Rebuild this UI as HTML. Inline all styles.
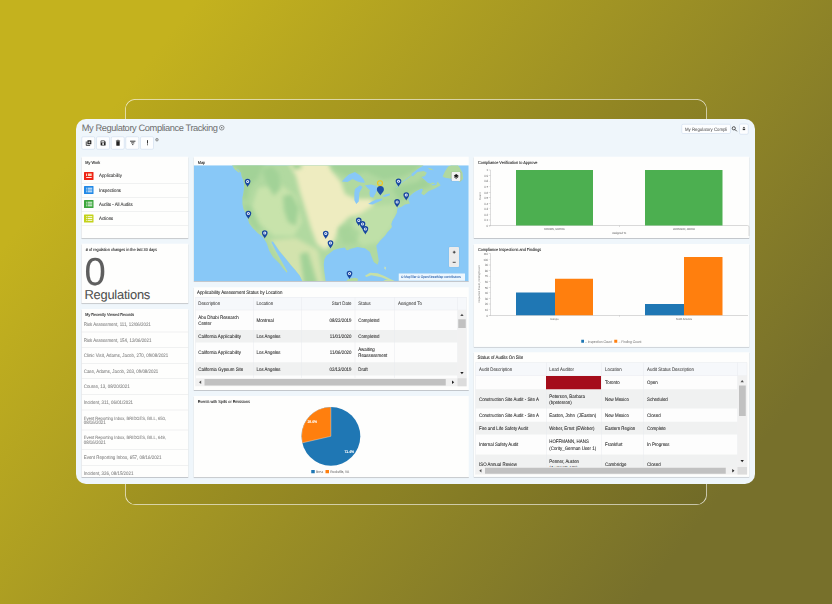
<!DOCTYPE html><html><head><meta charset="utf-8"><title>My Regulatory Compliance Tracking</title><style>
html,body{margin:0;padding:0}
body{width:832px;height:604px;overflow:hidden;position:relative;font-family:"Liberation Sans",sans-serif;text-rendering:geometricPrecision;
background:#8f852a;}
#bg{position:absolute;left:0;top:0;width:832px;height:604px;background:linear-gradient(128deg,#c4b21e 15%,#77702b 85%)}
#w{position:absolute;left:0;top:0;width:3328px;height:2416px;transform:scale(.25);transform-origin:0 0}

.a{position:absolute;box-sizing:border-box}
.t{white-space:nowrap;-webkit-text-stroke:0.24px currentColor}
.p{background:#fefefd;box-shadow:0 3.2px 0 #b8bcc1}
.hl{background:#e3e4e5;height:2px}
svg{position:absolute;overflow:visible}
</style></head><body><div id="bg"></div><div id="w">
<div class="a " style="left:500.4px;top:396.4px;width:2327.2px;height:1623.6px;border:3.2px solid rgba(255,255,255,.8);border-radius:42px;background:rgba(0,0,0,.05)"></div>
<div class="a " style="left:304px;top:476px;width:2716px;height:1460px;background:#eff6fb;border-radius:40px"></div>
<div class="a t" style="top:489.6px;font-size:37.2px;line-height:40px;color:#6e6e6e;letter-spacing:-1.64px;left:326.8px;-webkit-text-stroke:0;">My Regulatory Compliance Tracking</div>
<svg style="left:875.2px;top:499.2px" width="24" height="24" viewBox="0 0 6 6"><circle cx="3" cy="3" r="2.3" fill="none" stroke="#555" stroke-width="0.6"/><circle cx="3" cy="3" r="0.7" fill="#555"/></svg>
<div class="a " style="left:326.4px;top:546.4px;width:54px;height:51.2px;background:#fdfeff;border:2.4px solid #c6d6ea;border-radius:6.4px"></div>
<div class="a " style="left:384.8px;top:546.4px;width:54px;height:51.2px;background:#fdfeff;border:2.4px solid #c6d6ea;border-radius:6.4px"></div>
<div class="a " style="left:444px;top:546.4px;width:54px;height:51.2px;background:#fdfeff;border:2.4px solid #c6d6ea;border-radius:6.4px"></div>
<div class="a " style="left:502px;top:546.4px;width:54px;height:51.2px;background:#fdfeff;border:2.4px solid #c6d6ea;border-radius:6.4px"></div>
<div class="a " style="left:560.8px;top:546.4px;width:54px;height:51.2px;background:#fdfeff;border:2.4px solid #c6d6ea;border-radius:6.4px"></div>
<svg style="left:343.2px;top:560px" width="24" height="24" viewBox="0 0 6 6"><rect x="1.6" y="0.3" width="4" height="4" rx="0.5" fill="#222"/><path d="M0.5 1.5V5.4H4.4" fill="none" stroke="#222" stroke-width="0.8"/><path d="M3.6 1.3V3.3M2.6 2.3H4.6" stroke="#fff" stroke-width="0.6"/></svg>
<svg style="left:399.6px;top:559.6px" width="24.8" height="24.8" viewBox="0 0 6 6"><path d="M0.6 1.2a.6.6 0 0 1 .6-.6H4.2L5.4 1.8V4.8a.6.6 0 0 1-.6.6H1.2a.6.6 0 0 1-.6-.6Z" fill="#222"/><rect x="1.3" y="1.2" width="2.9" height="1.25" fill="#fff"/><circle cx="3" cy="3.95" r="0.95" fill="#fff"/></svg>
<svg style="left:462.4px;top:559.2px" width="20" height="25.6" viewBox="0 0 5 6.4"><path d="M0.8 1.6H4.2V5.6a.5.5 0 0 1-.5.5H1.3a.5.5 0 0 1-.5-.5Z" fill="#222"/><path d="M0.4 1.1H4.6M1.8 0.5H3.2" stroke="#222" stroke-width="0.7"/></svg>
<svg style="left:518.8px;top:561.6px" width="24" height="20" viewBox="0 0 6 5"><path d="M0.3 0.7H5.7M1.4 2.4H4.6M2.4 4.1H3.6" stroke="#222" stroke-width="0.9"/></svg>
<svg style="left:586.8px;top:558.8px" width="6.4" height="24" viewBox="0 0 1.6 6"><rect x="0.35" y="0.4" width="0.9" height="3.4" fill="#222"/><rect x="0.35" y="4.6" width="0.9" height="0.9" fill="#222"/></svg>
<svg style="left:621.2px;top:551.6px" width="13.6" height="13.6" viewBox="0 0 3.4 3.4"><circle cx="1.7" cy="1.7" r="1.3" fill="none" stroke="#666" stroke-width="0.65"/><circle cx="1.7" cy="1.7" r="0.55" fill="#666"/></svg>
<div class="a " style="left:2726.4px;top:496px;width:196.8px;height:39.2px;background:#fdfeff;border:2.4px solid #c6d6ea;border-radius:6.4px"></div>
<div class="a t" style="top:496.4px;font-size:19.35px;line-height:40px;color:#444;left:2740.4px;transform:scaleX(0.8889);transform-origin:0 50%;-webkit-text-stroke:0;">My Regulatory Compli</div>
<svg style="left:2926.4px;top:504px" width="24" height="24" viewBox="0 0 6 6"><circle cx="2.3" cy="2.3" r="1.6" fill="none" stroke="#333" stroke-width="0.8"/><path d="M3.5 3.5L5.3 5.3" stroke="#333" stroke-width="0.9"/></svg>
<div class="a " style="left:2957.2px;top:494.8px;width:37.2px;height:43.2px;background:#fdfeff;border:2.4px solid #c6d6ea;border-radius:6.4px"></div>
<svg style="left:2969.2px;top:506.4px" width="13.6" height="16" viewBox="0 0 3.4 4"><path d="M1.7 0.2L3.1 1.8H0.3Z" fill="#333"/><rect x="0.5" y="2.3" width="2.4" height="1.3" fill="#333"/></svg>
<div class="a p" style="left:326px;top:627px;width:427px;height:326px;"></div>
<div class="a t" style="top:630px;font-size:17.19px;line-height:40px;color:#262626;left:341.2px;transform:scaleX(0.8889);transform-origin:0 50%;-webkit-text-stroke:0.36px currentColor;">My Work</div>
<div class="a " style="left:336px;top:687.6px;width:37.6px;height:32px;background:#ee2416;border-radius:2.4px"></div>
<svg style="left:336px;top:687.6px" width="37.6" height="32" viewBox="0 0 9.4 8.0"><rect x="2.2" y="1.4" width="0.8" height="2.6" rx="0.3" fill="#fff"/><rect x="3.9" y="1.5" width="3.8" height="2.5" fill="#fbd9b8"/><rect x="2.2" y="5.0" width="5.5" height="0.9" fill="#fff"/></svg>
<div class="a t" style="top:683.2px;font-size:19.58px;line-height:40px;color:#2a2a2a;left:396.4px;transform:scaleX(0.8889);transform-origin:0 50%;">Applicability</div>
<div class="a " style="left:336px;top:744px;width:37.6px;height:32px;background:#2188e6;border-radius:2.4px"></div>
<svg style="left:344.8px;top:751px" width="24" height="18" viewBox="0 0 6.0 4.5"><g fill="#fff"><rect x="0" y="0" width="0.85" height="0.9"/><rect x="1.4" y="0" width="4.6" height="0.9"/><rect x="0" y="1.8" width="0.85" height="0.9"/><rect x="1.4" y="1.8" width="4.6" height="0.9"/><rect x="0" y="3.6" width="0.85" height="0.9"/><rect x="1.4" y="3.6" width="4.6" height="0.9"/></g></svg>
<div class="a t" style="top:741.8px;font-size:19.58px;line-height:40px;color:#2a2a2a;left:396.4px;transform:scaleX(0.8889);transform-origin:0 50%;">Inspections</div>
<div class="a " style="left:336px;top:800.2px;width:37.6px;height:32px;background:#3ba63c;border-radius:2.4px"></div>
<svg style="left:344.8px;top:807.2px" width="24" height="18" viewBox="0 0 6.0 4.5"><g fill="#fff"><rect x="0" y="0" width="0.85" height="0.9"/><rect x="1.4" y="0" width="4.6" height="0.9"/><rect x="0" y="1.8" width="0.85" height="0.9"/><rect x="1.4" y="1.8" width="4.6" height="0.9"/><rect x="0" y="3.6" width="0.85" height="0.9"/><rect x="1.4" y="3.6" width="4.6" height="0.9"/></g></svg>
<div class="a t" style="top:797.4px;font-size:19.58px;line-height:40px;color:#2a2a2a;left:396.4px;transform:scaleX(0.8889);transform-origin:0 50%;">Audits - All Audits</div>
<div class="a " style="left:336px;top:857.6px;width:37.6px;height:32px;background:#c3d21a;border-radius:2.4px"></div>
<svg style="left:344.8px;top:864.6px" width="24" height="18" viewBox="0 0 6.0 4.5"><g fill="#fff"><rect x="0" y="0" width="0.85" height="0.9"/><rect x="1.4" y="0" width="4.6" height="0.9"/><rect x="0" y="1.8" width="0.85" height="0.9"/><rect x="1.4" y="1.8" width="4.6" height="0.9"/><rect x="0" y="3.6" width="0.85" height="0.9"/><rect x="1.4" y="3.6" width="4.6" height="0.9"/></g></svg>
<div class="a t" style="top:855.4px;font-size:19.58px;line-height:40px;color:#2a2a2a;left:396.4px;transform:scaleX(0.8889);transform-origin:0 50%;">Actions</div>
<div class="a hl" style="left:326px;top:731.8px;width:427px;height:2px;"></div>
<div class="a hl" style="left:326px;top:788.6px;width:427px;height:2px;"></div>
<div class="a hl" style="left:326px;top:844.6px;width:427px;height:2px;"></div>
<div class="a hl" style="left:326px;top:900.2px;width:427px;height:2px;"></div>
<div class="a p" style="left:326px;top:975px;width:427px;height:238px;"></div>
<div class="a t" style="top:978px;font-size:17.1px;line-height:40px;color:#262626;left:343px;transform:scaleX(0.8889);transform-origin:0 50%;-webkit-text-stroke:0.36px currentColor;"># of regulation changes in the last 30 days</div>
<div class="a t" style="left:338.4px;top:988.8px;font-size:156px;line-height:192px;color:#5e5e5e;transform:scaleX(.98);transform-origin:0 0">0</div>
<div class="a t" style="top:1158.4px;font-size:51.6px;line-height:40px;color:#4e4e4e;letter-spacing:-0.88px;left:337.6px;line-height:64px;margin-top:-12px;">Regulations</div>
<div class="a p" style="left:326px;top:1236px;width:427px;height:672px;overflow:hidden"></div>
<div class="a t" style="top:1239.2px;font-size:16.92px;line-height:40px;color:#262626;left:341.2px;transform:scaleX(0.8889);transform-origin:0 50%;-webkit-text-stroke:0.36px currentColor;">My Recently Viewed Records</div>
<div class="a t" style="top:1278px;font-size:19.8px;line-height:40px;color:#808080;left:335.2px;transform:scaleX(0.8889);transform-origin:0 50%;">Risk Assessment, 111, 12/06/2021</div>
<div class="a t" style="top:1340px;font-size:19.8px;line-height:40px;color:#808080;left:335.2px;transform:scaleX(0.8889);transform-origin:0 50%;">Risk Assessment, 154, 12/06/2021</div>
<div class="a t" style="top:1402px;font-size:19.8px;line-height:40px;color:#808080;left:335.2px;transform:scaleX(0.8889);transform-origin:0 50%;">Clinic Visit, Adams, Jacob, 270, 09/08/2021</div>
<div class="a t" style="top:1465.2px;font-size:19.8px;line-height:40px;color:#808080;left:335.2px;transform:scaleX(0.8889);transform-origin:0 50%;">Case, Adams, Jacob, 203, 09/08/2021</div>
<div class="a t" style="top:1527.2px;font-size:19.8px;line-height:40px;color:#808080;left:335.2px;transform:scaleX(0.8889);transform-origin:0 50%;">Course, 13, 08/20/2021</div>
<div class="a t" style="top:1588.8px;font-size:19.8px;line-height:40px;color:#808080;left:335.2px;transform:scaleX(0.8889);transform-origin:0 50%;">Incident, 311, 06/01/2021</div>
<div class="a t" style="top:1651.6px;font-size:18.45px;line-height:40px;color:#808080;left:335.2px;transform:scaleX(0.8889);transform-origin:0 50%;">Event Reporting Inbox, BRIDGES, BILL, 650,</div>
<div class="a t" style="top:1668px;font-size:19.8px;line-height:40px;color:#808080;left:335.2px;transform:scaleX(0.8889);transform-origin:0 50%;">08/16/2021</div>
<div class="a t" style="top:1731.2px;font-size:18.45px;line-height:40px;color:#808080;left:335.2px;transform:scaleX(0.8889);transform-origin:0 50%;">Event Reporting Inbox, BRIDGES, BILL, 649,</div>
<div class="a t" style="top:1748.4px;font-size:19.8px;line-height:40px;color:#808080;left:335.2px;transform:scaleX(0.8889);transform-origin:0 50%;">08/16/2021</div>
<div class="a t" style="top:1810.8px;font-size:19.8px;line-height:40px;color:#808080;left:335.2px;transform:scaleX(0.8889);transform-origin:0 50%;">Event Reporting Inbox, 657, 08/16/2021</div>
<div class="a t" style="top:1872.8px;font-size:19.8px;line-height:40px;color:#808080;left:335.2px;transform:scaleX(0.8889);transform-origin:0 50%;">Incident, 326, 08/15/2021</div>
<div class="a hl" style="left:326px;top:1327px;width:427px;height:2px;"></div>
<div class="a hl" style="left:326px;top:1389px;width:427px;height:2px;"></div>
<div class="a hl" style="left:326px;top:1451.8px;width:427px;height:2px;"></div>
<div class="a hl" style="left:326px;top:1514px;width:427px;height:2px;"></div>
<div class="a hl" style="left:326px;top:1576px;width:427px;height:2px;"></div>
<div class="a hl" style="left:326px;top:1639px;width:427px;height:2px;"></div>
<div class="a hl" style="left:326px;top:1719px;width:427px;height:2px;"></div>
<div class="a hl" style="left:326px;top:1797px;width:427px;height:2px;"></div>
<div class="a hl" style="left:326px;top:1861px;width:427px;height:2px;"></div>
<div class="a p" style="left:775px;top:627px;width:1100px;height:497px;"></div>
<div class="a t" style="top:627.6px;font-size:17.19px;line-height:40px;color:#262626;left:791.2px;transform:scaleX(0.8889);transform-origin:0 50%;-webkit-text-stroke:0.36px currentColor;">Map</div>
<svg style="left:775px;top:661px" width="1100" height="463" viewBox="0 0 275.0 115.75">
<defs><clipPath id="mc"><rect x="0" y="0" width="275" height="115.75"/></clipPath><filter id="bl" x="-20%" y="-20%" width="140%" height="140%"><feGaussianBlur stdDeviation="2.0"/></filter><filter id="bl2" x="-20%" y="-20%" width="140%" height="140%"><feGaussianBlur stdDeviation="1.9"/></filter><clipPath id="lc"><polygon points="38.0,0.0 41.8,3.2 44.8,4.2 47.3,7.5 48.0,11.2 49.8,15.0 50.5,21.2 49.8,27.5 48.7,32.5 48.7,38.8 49.8,43.8 52.3,48.8 54.2,53.8 55.5,58.2 59.2,63.0 64.2,68.0 69.2,71.8 73.0,78.0 75.5,85.5 79.2,91.8 85.5,98.0 89.2,103.0 93.0,107.4 93.6,106.2 91.8,103.0 86.8,94.2 81.8,85.5 78.0,78.0 77.6,76.2 79.2,76.3 80.5,78.0 85.5,85.5 91.8,93.0 96.8,99.2 101.2,104.2 106.2,110.5 108.8,115.8 131.9,115.8 130.6,106.8 130.0,99.2 130.6,94.2 132.5,90.5 137.5,86.8 140.0,84.8 146.2,83.0 151.2,82.3 152.5,84.8 154.2,85.1 156.2,83.7 163.8,81.8 171.2,83.0 176.2,86.8 177.5,90.5 180.0,96.8 183.8,99.4 185.0,95.5 183.8,88.0 182.5,80.5 186.2,75.5 191.2,70.5 193.8,66.8 196.2,64.2 198.1,61.8 197.4,58.8 198.8,55.0 201.2,51.2 203.1,47.5 203.8,42.5 207.5,41.8 211.2,39.3 216.2,38.2 214.4,34.3 215.6,31.2 218.8,28.2 222.5,25.7 227.5,23.2 229.4,23.9 227.5,28.2 230.0,30.0 235.0,25.7 241.2,23.2 246.9,20.0 243.8,16.2 242.5,19.8 238.8,20.3 237.5,18.8 233.8,17.5 231.2,15.0 227.5,11.8 231.2,10.7 233.1,7.5 230.0,5.7 223.8,6.8 218.8,11.2 217.5,8.8 223.8,3.8 230.0,0.0"/></clipPath></defs>
<g clip-path="url(#mc)">
<rect x="0" y="0" width="275" height="115.75" fill="#88c8f7"/>
<polygon points="38.0,0.0 41.8,3.2 44.8,4.2 47.3,7.5 48.0,11.2 49.8,15.0 50.5,21.2 49.8,27.5 48.7,32.5 48.7,38.8 49.8,43.8 52.3,48.8 54.2,53.8 55.5,58.2 59.2,63.0 64.2,68.0 69.2,71.8 73.0,78.0 75.5,85.5 79.2,91.8 85.5,98.0 89.2,103.0 93.0,107.4 93.6,106.2 91.8,103.0 86.8,94.2 81.8,85.5 78.0,78.0 77.6,76.2 79.2,76.3 80.5,78.0 85.5,85.5 91.8,93.0 96.8,99.2 101.2,104.2 106.2,110.5 108.8,115.8 131.9,115.8 130.6,106.8 130.0,99.2 130.6,94.2 132.5,90.5 137.5,86.8 140.0,84.8 146.2,83.0 151.2,82.3 152.5,84.8 154.2,85.1 156.2,83.7 163.8,81.8 171.2,83.0 176.2,86.8 177.5,90.5 180.0,96.8 183.8,99.4 185.0,95.5 183.8,88.0 182.5,80.5 186.2,75.5 191.2,70.5 193.8,66.8 196.2,64.2 198.1,61.8 197.4,58.8 198.8,55.0 201.2,51.2 203.1,47.5 203.8,42.5 207.5,41.8 211.2,39.3 216.2,38.2 214.4,34.3 215.6,31.2 218.8,28.2 222.5,25.7 227.5,23.2 229.4,23.9 227.5,28.2 230.0,30.0 235.0,25.7 241.2,23.2 246.9,20.0 243.8,16.2 242.5,19.8 238.8,20.3 237.5,18.8 233.8,17.5 231.2,15.0 227.5,11.8 231.2,10.7 233.1,7.5 230.0,5.7 223.8,6.8 218.8,11.2 217.5,8.8 223.8,3.8 230.0,0.0" fill="#b1d9a0"/>
<g clip-path="url(#lc)">
<g filter="url(#bl)">
<polygon points="92.2,-7.2 133.2,-7.2 137.2,4.8 147.2,16.8 151.2,28.8 162.2,33.8 178.2,33.8 179.2,40.8 170.2,47.8 155.2,51.8 145.2,61.8 140.2,76.8 131.2,84.8 123.2,78.8 117.2,62.8 111.2,42.8 106.2,26.8 102.2,10.8" fill="#eeecc0"/>
<polygon points="64.2,22.8 86.2,18.8 102.2,30.8 108.2,56.8 100.2,70.8 80.2,70.8 66.2,58.8 58.2,40.8" fill="#c8e3ab"/>
<polygon points="76.2,74.8 102.2,72.8 124.2,84.8 130.2,119.8 104.2,119.8 90.2,96.8" fill="#d3e3ad"/>
<polygon points="178.2,40.8 204.2,38.8 200.2,58.8 186.2,76.8 168.2,80.8 156.2,66.8 162.2,50.8" fill="#bfe0a8"/>
</g>
<g filter="url(#bl2)" fill="#a2d297">
<polygon points="36.2,-5.2 74.2,-5.2 68.2,2.8 64.2,12.8 56.2,20.8 53.2,34.8 49.2,34.8 47.2,20.8 46.2,6.8"/>
<polygon points="68.2,4.8 78.2,0.8 85.2,8.8 87.2,22.8 80.2,30.8 74.2,20.8"/>
<polygon points="89.2,30.8 98.2,28.8 105.2,42.8 102.2,60.8 94.2,56.8 90.2,44.8"/>
<polygon points="49.2,38.8 56.2,40.8 62.2,56.8 68.2,66.8 60.2,62.8 53.2,50.8"/>
<polygon points="134.2,-5.2 230.2,-5.2 222.2,4.8 210.2,10.8 190.2,14.8 172.2,6.8 152.2,10.8 140.2,4.8"/>
<polygon points="144.2,62.8 156.2,59.8 166.2,66.8 162.2,77.8 149.2,78.8" opacity="0.7"/>
<polygon points="198.2,22.8 224.2,16.8 230.2,10.8 238.2,20.8 220.2,26.8 206.2,36.8"/>
<polygon points="106.2,88.8 114.2,86.8 124.2,119.8 110.2,119.8"/>
<polygon points="96.2,-5.2 106.2,-5.2 108.2,2.8 100.2,4.8"/>
</g>
</g>
<polygon points="148.1,16.2 151.2,12.8 155.0,9.3 161.2,6.8 166.2,10.0 170.0,14.3 171.2,17.5 167.2,17.2 163.8,16.2 158.8,13.8 153.8,16.8" fill="#88c8f7"/>
<polygon points="161.2,23.8 166.2,20.0 168.8,21.8 165.6,27.5 165.0,36.2 162.5,38.8 160.6,35.0 160.6,27.5" fill="#88c8f7"/>
<polygon points="171.2,20.0 177.5,19.3 182.5,20.7 183.8,23.8 181.8,28.2 179.4,32.5 176.2,31.2 175.6,27.8 176.2,25.0 173.2,22.2" fill="#88c8f7"/>
<polygon points="174.4,38.8 178.2,36.2 182.5,34.3 188.8,33.2 188.1,35.0 183.2,37.2 178.8,39.3" fill="#88c8f7"/>
<polygon points="188.8,30.7 192.2,28.9 196.2,28.2 196.2,30.0 192.8,31.3 190.0,31.8" fill="#88c8f7"/>
<path d="M218.1 9.8L208.2 17.2L202.2 22.8" stroke="#88c8f7" stroke-width="0.7" fill="none"/>
<polygon points="248.8,11.2 251.2,6.2 254.4,1.2 257.5,0.0 264.2,0.0 266.2,2.8 268.8,7.5 269.4,13.8 266.2,16.8 263.2,14.8 261.2,13.8 256.2,13.2 251.2,12.5" fill="#b0d8a0"/>
<polygon points="233.8,2.6 237.2,3.2 240.1,4.9 236.2,4.6" fill="#b1d9a0"/>
<polygon points="236.2,17.9 239.2,17.3 241.8,18.2 238.8,18.9" fill="#b1d9a0"/>
<polygon points="38.8,0.9 42.2,2.8 46.4,6.8 44.8,7.2 40.8,3.9" fill="#b1d9a0"/>
<polygon points="171.2,110.5 176.2,107.4 183.8,108.0 191.2,111.1 198.8,114.9 195.0,115.1 187.5,112.1 177.5,110.1 172.5,111.8" fill="#c6e0a6"/>
<polygon points="152.5,115.8 155.0,113.6 161.2,112.4 164.4,113.6 163.8,115.8" fill="#b1d9a0"/>
<polygon points="189.2,115.8 192.2,114.4 198.2,114.6 201.2,115.8" fill="#c6e0a6"/>
<polygon points="190.8,101.2 192.2,101.9 191.8,104.8 190.6,103.2" fill="#cfe4b2"/>
<g transform="translate(53.85,16.25) scale(1.0)"><path d="M0 5.5C-0.5 3.8-2.85 2.3-2.85 0A2.85 2.85 0 0 1 2.85 0C2.85 2.3 0.5 3.8 0 5.5Z" fill="#18479f"/><circle cx="0" cy="0" r="1.5" fill="#eaf1fb"/><circle cx="0" cy="0" r="0.6" fill="#18479f"/></g>
<g transform="translate(54.65,48.35) scale(1.0)"><path d="M0 5.5C-0.5 3.8-2.85 2.3-2.85 0A2.85 2.85 0 0 1 2.85 0C2.85 2.3 0.5 3.8 0 5.5Z" fill="#18479f"/><circle cx="0" cy="0" r="1.5" fill="#eaf1fb"/><circle cx="0" cy="0" r="0.6" fill="#18479f"/></g>
<g transform="translate(71.00,67.75) scale(1.0)"><path d="M0 5.5C-0.5 3.8-2.85 2.3-2.85 0A2.85 2.85 0 0 1 2.85 0C2.85 2.3 0.5 3.8 0 5.5Z" fill="#18479f"/><circle cx="0" cy="0" r="1.5" fill="#eaf1fb"/><circle cx="0" cy="0" r="0.6" fill="#18479f"/></g>
<g transform="translate(132.00,68.25) scale(1.0)"><path d="M0 5.5C-0.5 3.8-2.85 2.3-2.85 0A2.85 2.85 0 0 1 2.85 0C2.85 2.3 0.5 3.8 0 5.5Z" fill="#18479f"/><circle cx="0" cy="0" r="1.5" fill="#eaf1fb"/><circle cx="0" cy="0" r="0.6" fill="#18479f"/></g>
<g transform="translate(136.75,77.75) scale(1.0)"><path d="M0 5.5C-0.5 3.8-2.85 2.3-2.85 0A2.85 2.85 0 0 1 2.85 0C2.85 2.3 0.5 3.8 0 5.5Z" fill="#18479f"/><circle cx="0" cy="0" r="1.5" fill="#eaf1fb"/><circle cx="0" cy="0" r="0.6" fill="#18479f"/></g>
<g transform="translate(155.75,108.35) scale(1.0)"><path d="M0 5.5C-0.5 3.8-2.85 2.3-2.85 0A2.85 2.85 0 0 1 2.85 0C2.85 2.3 0.5 3.8 0 5.5Z" fill="#18479f"/><circle cx="0" cy="0" r="1.5" fill="#eaf1fb"/><circle cx="0" cy="0" r="0.6" fill="#18479f"/></g>
<g transform="translate(165.00,55.15) scale(1.0)"><path d="M0 5.5C-0.5 3.8-2.85 2.3-2.85 0A2.85 2.85 0 0 1 2.85 0C2.85 2.3 0.5 3.8 0 5.5Z" fill="#18479f"/><circle cx="0" cy="0" r="1.5" fill="#eaf1fb"/><circle cx="0" cy="0" r="0.6" fill="#18479f"/></g>
<g transform="translate(168.75,58.65) scale(1.0)"><path d="M0 5.5C-0.5 3.8-2.85 2.3-2.85 0A2.85 2.85 0 0 1 2.85 0C2.85 2.3 0.5 3.8 0 5.5Z" fill="#18479f"/><circle cx="0" cy="0" r="1.5" fill="#eaf1fb"/><circle cx="0" cy="0" r="0.6" fill="#18479f"/></g>
<g transform="translate(171.65,63.65) scale(1.0)"><path d="M0 5.5C-0.5 3.8-2.85 2.3-2.85 0A2.85 2.85 0 0 1 2.85 0C2.85 2.3 0.5 3.8 0 5.5Z" fill="#18479f"/><circle cx="0" cy="0" r="1.5" fill="#eaf1fb"/><circle cx="0" cy="0" r="0.6" fill="#18479f"/></g>
<g transform="translate(204.75,16.00) scale(1.0)"><path d="M0 5.5C-0.5 3.8-2.85 2.3-2.85 0A2.85 2.85 0 0 1 2.85 0C2.85 2.3 0.5 3.8 0 5.5Z" fill="#18479f"/><circle cx="0" cy="0" r="1.5" fill="#eaf1fb"/><circle cx="0" cy="0" r="0.6" fill="#18479f"/></g>
<g transform="translate(212.50,29.75) scale(1.0)"><path d="M0 5.5C-0.5 3.8-2.85 2.3-2.85 0A2.85 2.85 0 0 1 2.85 0C2.85 2.3 0.5 3.8 0 5.5Z" fill="#18479f"/><circle cx="0" cy="0" r="1.5" fill="#eaf1fb"/><circle cx="0" cy="0" r="0.6" fill="#18479f"/></g>
<g transform="translate(203.35,36.65) scale(1.0)"><path d="M0 5.5C-0.5 3.8-2.85 2.3-2.85 0A2.85 2.85 0 0 1 2.85 0C2.85 2.3 0.5 3.8 0 5.5Z" fill="#18479f"/><circle cx="0" cy="0" r="1.5" fill="#eaf1fb"/><circle cx="0" cy="0" r="0.6" fill="#18479f"/></g>
<circle cx="186.25" cy="17.85" r="2.45" fill="none" stroke="#f4c418" stroke-width="1.05"/>
<g transform="translate(186.65,24.35)"><path d="M0 5.9C-0.6 4.2-3.5 2.7-3.5 0A3.5 3.5 0 0 1 3.5 0C3.5 2.7 0.6 4.2 0 5.9Z" fill="#1d4fa6"/></g>
</g></svg>
<div class="a " style="left:1806px;top:688px;width:36.4px;height:35.6px;background:#f1f1f1;border-radius:3.2px;box-shadow:0 0 3.2px rgba(0,0,0,.3)"></div>
<svg style="left:1813.6px;top:694.8px" width="21.6" height="21.6" viewBox="0 0 5.4 5.4"><path d="M2.7 0.3L5.1 2.1L2.7 3.9L0.3 2.1Z" fill="#1a1a1a"/><path d="M0.5 3.0L2.7 4.7L4.9 3.0" fill="none" stroke="#1a1a1a" stroke-width="0.75"/></svg>
<div class="a " style="left:1796.4px;top:988px;width:40px;height:80px;background:#ebebeb;border-radius:3.2px;box-shadow:0 0 3.2px rgba(0,0,0,.3)"></div>
<svg style="left:1810.4px;top:1001.6px" width="13.6" height="13.6" viewBox="0 0 3.4 3.4"><path d="M0.3 1.7H3.1M1.7 0.3V3.1" stroke="#222" stroke-width="0.8"/></svg>
<svg style="left:1810.4px;top:1046.4px" width="13.6" height="6.4" viewBox="0 0 3.4 1.6"><path d="M0.2 0.8H3.2" stroke="#222" stroke-width="0.8"/></svg>
<div class="a " style="left:1595px;top:1094.4px;width:265.2px;height:28.4px;background:rgba(255,255,255,.85)"></div>
<div class="a t" style="top:1087.2px;font-size:14.4px;line-height:40px;color:#2a62ae;left:1603.6px;transform:scaleX(0.8889);transform-origin:0 50%;">© MapTiler © OpenStreetMap contributors</div>
<div class="a p" style="left:775px;top:1149px;width:1100px;height:411px;"></div>
<div class="a t" style="top:1150px;font-size:19.76px;line-height:40px;color:#222;left:788px;transform:scaleX(0.8889);transform-origin:0 50%;">Applicability Assessment Status by Location</div>
<div class="a " style="left:782px;top:1188px;width:1084px;height:52px;background:#f6f8fb"></div>
<div class="a " style="left:782px;top:1240px;width:1048px;height:80px;background:#fdfdfd"></div>
<div class="a " style="left:782px;top:1320px;width:1048px;height:51px;background:#f0f1f1"></div>
<div class="a " style="left:782px;top:1371px;width:1048px;height:78px;background:#fdfdfd"></div>
<div class="a " style="left:782px;top:1449px;width:1048px;height:54px;background:#f0f1f1"></div>
<div class="a " style="left:782px;top:1503px;width:1048px;height:10px;background:#fdfdfd"></div>
<div class="a " style="left:1013px;top:1188px;width:2px;height:325px;background:#e9ebee"></div>
<div class="a " style="left:1205px;top:1188px;width:2px;height:325px;background:#e9ebee"></div>
<div class="a " style="left:1419px;top:1188px;width:2px;height:325px;background:#e9ebee"></div>
<div class="a " style="left:1577px;top:1188px;width:2px;height:325px;background:#e9ebee"></div>
<div class="a " style="left:1829px;top:1188px;width:2px;height:325px;background:#e9ebee"></div>
<div class="a " style="left:782px;top:1188px;width:1084px;height:2px;background:#e9ebee"></div>
<div class="a " style="left:782px;top:1239px;width:1084px;height:2px;background:#e9ebee"></div>
<div class="a " style="left:781px;top:1188px;width:2px;height:357px;background:#e9ebee"></div>
<div class="a " style="left:1865px;top:1188px;width:2px;height:357px;background:#e9ebee"></div>
<div class="a t" style="top:1194px;font-size:19.8px;line-height:40px;color:#444;left:793.2px;transform:scaleX(0.8889);transform-origin:0 50%;">Description</div>
<div class="a t" style="top:1194px;font-size:19.8px;line-height:40px;color:#444;left:1026px;transform:scaleX(0.8889);transform-origin:0 50%;">Location</div>
<div class="a t" style="top:1194px;font-size:19.8px;line-height:40px;color:#444;left:206.4px;width:1200px;text-align:right;transform:scaleX(0.8889);transform-origin:100% 50%;">Start Date</div>
<div class="a t" style="top:1194px;font-size:19.8px;line-height:40px;color:#444;left:1433.2px;transform:scaleX(0.8889);transform-origin:0 50%;">Status</div>
<div class="a t" style="top:1194px;font-size:19.8px;line-height:40px;color:#444;left:1592px;transform:scaleX(0.8889);transform-origin:0 50%;">Assigned To</div>
<div class="a t" style="top:1248px;font-size:19.8px;line-height:40px;color:#222;left:793.2px;transform:scaleX(0.8889);transform-origin:0 50%;">Abu Dhabi Research</div>
<div class="a t" style="top:1273.2px;font-size:19.8px;line-height:40px;color:#222;left:793.2px;transform:scaleX(0.8889);transform-origin:0 50%;">Center</div>
<div class="a t" style="top:1260.8px;font-size:19.8px;line-height:40px;color:#222;left:1026px;transform:scaleX(0.8889);transform-origin:0 50%;">Montreal</div>
<div class="a t" style="top:1260.8px;font-size:19.8px;line-height:40px;color:#222;left:206.4px;width:1200px;text-align:right;transform:scaleX(0.8889);transform-origin:100% 50%;">08/22/2019</div>
<div class="a t" style="top:1260.8px;font-size:19.8px;line-height:40px;color:#222;left:1433.2px;transform:scaleX(0.8889);transform-origin:0 50%;">Completed</div>
<div class="a t" style="top:1326px;font-size:19.8px;line-height:40px;color:#222;left:793.2px;transform:scaleX(0.8889);transform-origin:0 50%;">California Applicability</div>
<div class="a t" style="top:1326px;font-size:19.8px;line-height:40px;color:#222;left:1026px;transform:scaleX(0.8889);transform-origin:0 50%;">Los Angeles</div>
<div class="a t" style="top:1326px;font-size:19.8px;line-height:40px;color:#222;left:206.4px;width:1200px;text-align:right;transform:scaleX(0.8889);transform-origin:100% 50%;">11/01/2020</div>
<div class="a t" style="top:1326px;font-size:19.8px;line-height:40px;color:#222;left:1433.2px;transform:scaleX(0.8889);transform-origin:0 50%;">Completed</div>
<div class="a t" style="top:1390.8px;font-size:19.8px;line-height:40px;color:#222;left:793.2px;transform:scaleX(0.8889);transform-origin:0 50%;">California Applicability</div>
<div class="a t" style="top:1390.8px;font-size:19.8px;line-height:40px;color:#222;left:1026px;transform:scaleX(0.8889);transform-origin:0 50%;">Los Angeles</div>
<div class="a t" style="top:1390.8px;font-size:19.8px;line-height:40px;color:#222;left:206.4px;width:1200px;text-align:right;transform:scaleX(0.8889);transform-origin:100% 50%;">11/06/2020</div>
<div class="a t" style="top:1378px;font-size:19.8px;line-height:40px;color:#222;left:1433.2px;transform:scaleX(0.8889);transform-origin:0 50%;">Awaiting</div>
<div class="a t" style="top:1403.2px;font-size:19.8px;line-height:40px;color:#222;left:1433.2px;transform:scaleX(0.8889);transform-origin:0 50%;">Reassessment</div>
<div class="a t" style="top:1456px;font-size:19.8px;line-height:40px;color:#222;left:793.2px;transform:scaleX(0.8889);transform-origin:0 50%;">California Gypsum Site</div>
<div class="a t" style="top:1456px;font-size:19.8px;line-height:40px;color:#222;left:1026px;transform:scaleX(0.8889);transform-origin:0 50%;">Los Angeles</div>
<div class="a t" style="top:1456px;font-size:19.8px;line-height:40px;color:#222;left:206.4px;width:1200px;text-align:right;transform:scaleX(0.8889);transform-origin:100% 50%;">02/13/2019</div>
<div class="a t" style="top:1456px;font-size:19.8px;line-height:40px;color:#222;left:1433.2px;transform:scaleX(0.8889);transform-origin:0 50%;">Draft</div>
<div class="a " style="left:1830px;top:1240px;width:36px;height:273px;background:#f1f1f1"></div>
<div class="a " style="left:1833.2px;top:1277px;width:29.6px;height:35px;background:#c1c1c1"></div>
<svg style="left:1841.2px;top:1255.2px" width="13.6" height="8.8" viewBox="0 0 3.4 2.2"><path d="M0 2.2L1.7 0L3.4 2.2Z" fill="#505050"/></svg>
<svg style="left:1841.2px;top:1488px" width="13.6" height="8.8" viewBox="0 0 3.4 2.2"><path d="M0 0L1.7 2.2L3.4 0Z" fill="#222"/></svg>
<div class="a " style="left:782px;top:1513px;width:1084px;height:32px;background:#f1f1f1"></div>
<div class="a " style="left:818px;top:1516px;width:965px;height:26px;background:#c1c1c1"></div>
<svg style="left:796px;top:1522.4px" width="8.8" height="13.6" viewBox="0 0 2.2 3.4"><path d="M2.2 0L0 1.7L2.2 3.4Z" fill="#505050"/></svg>
<svg style="left:1808px;top:1522.4px" width="8.8" height="13.6" viewBox="0 0 2.2 3.4"><path d="M0 0L2.2 1.7L0 3.4Z" fill="#222"/></svg>
<div class="a " style="left:1830px;top:1513px;width:36px;height:32px;background:#dcdcdc"></div>
<div class="a p" style="left:775px;top:1584px;width:1100px;height:325px;"></div>
<div class="a t" style="top:1587.6px;font-size:17.06px;line-height:40px;color:#262626;left:791.2px;transform:scaleX(0.8889);transform-origin:0 50%;-webkit-text-stroke:0.36px currentColor;">Events with Spills or Emissions</div>
<svg style="left:0;top:0" width="3328" height="2416" viewBox="0 0 832 604"><circle cx="330.9" cy="436.3" r="29.4" fill="#1f77b4"/><path d="M330.9 436.3L330.9 406.90000000000003A29.4 29.4 0 0 0 302.25 442.89Z" fill="#ff7f0e" stroke="#f4f6f8" stroke-width="0.35"/></svg>
<div class="a t" style="top:1666.8px;font-size:15.3px;line-height:40px;color:#fff;font-weight:bold;left:649.2px;width:1200px;text-align:center;transform:scaleX(0.8889);transform-origin:50% 50%;">28.6%</div>
<div class="a t" style="top:1786.4px;font-size:15.3px;line-height:40px;color:#fff;font-weight:bold;left:796.8px;width:1200px;text-align:center;transform:scaleX(0.8889);transform-origin:50% 50%;">71.4%</div>
<div class="a " style="left:1245.2px;top:1879.6px;width:13.6px;height:13.6px;background:#1f77b4"></div>
<div class="a t" style="top:1866.4px;font-size:14.85px;line-height:40px;color:#777;left:1263.6px;transform:scaleX(0.8889);transform-origin:0 50%;">Brea</div>
<div class="a " style="left:1302.4px;top:1879.6px;width:13.6px;height:13.6px;background:#ff7f0e"></div>
<div class="a t" style="top:1866.4px;font-size:14.62px;line-height:40px;color:#777;left:1320.8px;transform:scaleX(0.8889);transform-origin:0 50%;">Rockville, VA</div>
<div class="a p" style="left:1895px;top:627px;width:1102px;height:325px;"></div>
<div class="a t" style="top:630px;font-size:17.28px;line-height:40px;color:#262626;left:1912px;transform:scaleX(0.8889);transform-origin:0 50%;-webkit-text-stroke:0.36px currentColor;">Compliance Verification to Approve</div>
<div class="a " style="left:1961.2px;top:680px;width:2px;height:223px;background:#bdbdbd"></div>
<svg style="left:0;top:0" width="3328" height="2416" viewBox="0 0 832 604"><path d="M489.5 225.5H747.5Q749 225.5 749 227V236" fill="none" stroke="#b5b5b5" stroke-width="0.5"/><path d="M619.5 225.5V227M489.7 225.5V227" stroke="#bdbdbd" stroke-width="0.5"/></svg>
<div class="a " style="left:1954.8px;top:901.2px;width:7.2px;height:1.6px;background:#bdbdbd"></div>
<div class="a t" style="top:882.8px;font-size:12.15px;line-height:40px;color:#7a7a7a;left:752.4px;width:1200px;text-align:right;transform:scaleX(0.8889);transform-origin:100% 50%;">0</div>
<div class="a " style="left:1954.8px;top:879px;width:7.2px;height:1.6px;background:#bdbdbd"></div>
<div class="a t" style="top:860.6px;font-size:12.15px;line-height:40px;color:#7a7a7a;left:752.4px;width:1200px;text-align:right;transform:scaleX(0.8889);transform-origin:100% 50%;">0.1</div>
<div class="a " style="left:1954.8px;top:856.8px;width:7.2px;height:1.6px;background:#bdbdbd"></div>
<div class="a t" style="top:838.4px;font-size:12.15px;line-height:40px;color:#7a7a7a;left:752.4px;width:1200px;text-align:right;transform:scaleX(0.8889);transform-origin:100% 50%;">0.2</div>
<div class="a " style="left:1954.8px;top:834.6px;width:7.2px;height:1.6px;background:#bdbdbd"></div>
<div class="a t" style="top:816.2px;font-size:12.15px;line-height:40px;color:#7a7a7a;left:752.4px;width:1200px;text-align:right;transform:scaleX(0.8889);transform-origin:100% 50%;">0.3</div>
<div class="a " style="left:1954.8px;top:812.4px;width:7.2px;height:1.6px;background:#bdbdbd"></div>
<div class="a t" style="top:794px;font-size:12.15px;line-height:40px;color:#7a7a7a;left:752.4px;width:1200px;text-align:right;transform:scaleX(0.8889);transform-origin:100% 50%;">0.4</div>
<div class="a " style="left:1954.8px;top:790.2px;width:7.2px;height:1.6px;background:#bdbdbd"></div>
<div class="a t" style="top:771.8px;font-size:12.15px;line-height:40px;color:#7a7a7a;left:752.4px;width:1200px;text-align:right;transform:scaleX(0.8889);transform-origin:100% 50%;">0.5</div>
<div class="a " style="left:1954.8px;top:768px;width:7.2px;height:1.6px;background:#bdbdbd"></div>
<div class="a t" style="top:749.6px;font-size:12.15px;line-height:40px;color:#7a7a7a;left:752.4px;width:1200px;text-align:right;transform:scaleX(0.8889);transform-origin:100% 50%;">0.6</div>
<div class="a " style="left:1954.8px;top:745.8px;width:7.2px;height:1.6px;background:#bdbdbd"></div>
<div class="a t" style="top:727.4px;font-size:12.15px;line-height:40px;color:#7a7a7a;left:752.4px;width:1200px;text-align:right;transform:scaleX(0.8889);transform-origin:100% 50%;">0.7</div>
<div class="a " style="left:1954.8px;top:723.6px;width:7.2px;height:1.6px;background:#bdbdbd"></div>
<div class="a t" style="top:705.2px;font-size:12.15px;line-height:40px;color:#7a7a7a;left:752.4px;width:1200px;text-align:right;transform:scaleX(0.8889);transform-origin:100% 50%;">0.8</div>
<div class="a " style="left:1954.8px;top:701.4px;width:7.2px;height:1.6px;background:#bdbdbd"></div>
<div class="a t" style="top:683px;font-size:12.15px;line-height:40px;color:#7a7a7a;left:752.4px;width:1200px;text-align:right;transform:scaleX(0.8889);transform-origin:100% 50%;">0.9</div>
<div class="a " style="left:1954.8px;top:679.2px;width:7.2px;height:1.6px;background:#bdbdbd"></div>
<div class="a t" style="top:660.8px;font-size:12.15px;line-height:40px;color:#7a7a7a;left:752.4px;width:1200px;text-align:right;transform:scaleX(0.8889);transform-origin:100% 50%;">1</div>
<div class="a " style="left:2064px;top:680px;width:308px;height:222px;background:#4caf50"></div>
<div class="a " style="left:2580px;top:680px;width:310px;height:222px;background:#4caf50"></div>
<div class="a t" style="top:896.8px;font-size:11.25px;line-height:40px;color:#7a7a7a;left:1618px;width:1200px;text-align:center;transform:scaleX(0.8889);transform-origin:50% 50%;">BROWN, SOPHIA</div>
<div class="a t" style="top:896.8px;font-size:11.25px;line-height:40px;color:#7a7a7a;left:2136px;width:1200px;text-align:center;transform:scaleX(0.8889);transform-origin:50% 50%;">JOHNSON, JENNA</div>
<div class="a t" style="top:912.8px;font-size:11.7px;line-height:40px;color:#7a7a7a;left:1877.2px;width:1200px;text-align:center;transform:scaleX(0.8889);transform-origin:50% 50%;">Assigned To</div>
<div class="a t" style="left:1920px;top:784px;font-size:10.4px;line-height:16px;color:#888;opacity:.99;transform:translate(-50%,-50%) rotate(-90deg)">Count</div>
<div class="a p" style="left:1895px;top:976px;width:1102px;height:411px;"></div>
<div class="a t" style="top:978px;font-size:17.14px;line-height:40px;color:#262626;left:1912px;transform:scaleX(0.8889);transform-origin:0 50%;-webkit-text-stroke:0.36px currentColor;">Compliance Inspections and Findings</div>
<div class="a " style="left:1961.2px;top:1014px;width:2px;height:247.6px;background:#bdbdbd"></div>
<div class="a " style="left:1958px;top:1260px;width:1034px;height:2px;background:#b5b5b5"></div>
<div class="a " style="left:2477px;top:1261px;width:2px;height:6px;background:#bdbdbd"></div>
<div class="a " style="left:1954.8px;top:1260.2px;width:7.2px;height:1.6px;background:#bdbdbd"></div>
<div class="a t" style="top:1241.8px;font-size:12.15px;line-height:40px;color:#7a7a7a;left:752.4px;width:1200px;text-align:right;transform:scaleX(0.8889);transform-origin:100% 50%;">0</div>
<div class="a " style="left:1954.8px;top:1237.84px;width:7.2px;height:1.6px;background:#bdbdbd"></div>
<div class="a t" style="top:1219.44px;font-size:12.15px;line-height:40px;color:#7a7a7a;left:752.4px;width:1200px;text-align:right;transform:scaleX(0.8889);transform-origin:100% 50%;">10</div>
<div class="a " style="left:1954.8px;top:1215.48px;width:7.2px;height:1.6px;background:#bdbdbd"></div>
<div class="a t" style="top:1197.08px;font-size:12.15px;line-height:40px;color:#7a7a7a;left:752.4px;width:1200px;text-align:right;transform:scaleX(0.8889);transform-origin:100% 50%;">20</div>
<div class="a " style="left:1954.8px;top:1193.12px;width:7.2px;height:1.6px;background:#bdbdbd"></div>
<div class="a t" style="top:1174.72px;font-size:12.15px;line-height:40px;color:#7a7a7a;left:752.4px;width:1200px;text-align:right;transform:scaleX(0.8889);transform-origin:100% 50%;">30</div>
<div class="a " style="left:1954.8px;top:1170.76px;width:7.2px;height:1.6px;background:#bdbdbd"></div>
<div class="a t" style="top:1152.36px;font-size:12.15px;line-height:40px;color:#7a7a7a;left:752.4px;width:1200px;text-align:right;transform:scaleX(0.8889);transform-origin:100% 50%;">40</div>
<div class="a " style="left:1954.8px;top:1148.4px;width:7.2px;height:1.6px;background:#bdbdbd"></div>
<div class="a t" style="top:1130px;font-size:12.15px;line-height:40px;color:#7a7a7a;left:752.4px;width:1200px;text-align:right;transform:scaleX(0.8889);transform-origin:100% 50%;">50</div>
<div class="a " style="left:1954.8px;top:1126px;width:7.2px;height:1.6px;background:#bdbdbd"></div>
<div class="a t" style="top:1107.6px;font-size:12.15px;line-height:40px;color:#7a7a7a;left:752.4px;width:1200px;text-align:right;transform:scaleX(0.8889);transform-origin:100% 50%;">60</div>
<div class="a " style="left:1954.8px;top:1103.64px;width:7.2px;height:1.6px;background:#bdbdbd"></div>
<div class="a t" style="top:1085.24px;font-size:12.15px;line-height:40px;color:#7a7a7a;left:752.4px;width:1200px;text-align:right;transform:scaleX(0.8889);transform-origin:100% 50%;">70</div>
<div class="a " style="left:1954.8px;top:1081.28px;width:7.2px;height:1.6px;background:#bdbdbd"></div>
<div class="a t" style="top:1062.88px;font-size:12.15px;line-height:40px;color:#7a7a7a;left:752.4px;width:1200px;text-align:right;transform:scaleX(0.8889);transform-origin:100% 50%;">80</div>
<div class="a " style="left:1954.8px;top:1058.92px;width:7.2px;height:1.6px;background:#bdbdbd"></div>
<div class="a t" style="top:1040.52px;font-size:12.15px;line-height:40px;color:#7a7a7a;left:752.4px;width:1200px;text-align:right;transform:scaleX(0.8889);transform-origin:100% 50%;">90</div>
<div class="a " style="left:1954.8px;top:1036.56px;width:7.2px;height:1.6px;background:#bdbdbd"></div>
<div class="a t" style="top:1018.16px;font-size:12.15px;line-height:40px;color:#7a7a7a;left:752.4px;width:1200px;text-align:right;transform:scaleX(0.8889);transform-origin:100% 50%;">100</div>
<div class="a " style="left:1954.8px;top:1014.2px;width:7.2px;height:1.6px;background:#bdbdbd"></div>
<div class="a t" style="top:995.8px;font-size:12.15px;line-height:40px;color:#7a7a7a;left:752.4px;width:1200px;text-align:right;transform:scaleX(0.8889);transform-origin:100% 50%;">110</div>
<div class="a " style="left:2064px;top:1170px;width:156px;height:91px;background:#1f77b4"></div>
<div class="a " style="left:2220px;top:1115px;width:152px;height:146px;background:#ff7f0e"></div>
<div class="a " style="left:2580px;top:1216px;width:156px;height:45px;background:#1f77b4"></div>
<div class="a " style="left:2736px;top:1028px;width:154px;height:233px;background:#ff7f0e"></div>
<div class="a t" style="top:1256.8px;font-size:11.25px;line-height:40px;color:#7a7a7a;left:1618px;width:1200px;text-align:center;transform:scaleX(0.8889);transform-origin:50% 50%;">Europe</div>
<div class="a t" style="top:1256.8px;font-size:11.25px;line-height:40px;color:#7a7a7a;left:2136px;width:1200px;text-align:center;transform:scaleX(0.8889);transform-origin:50% 50%;">North America</div>
<div class="a t" style="left:1918px;top:1136px;font-size:10.4px;line-height:16px;color:#888;opacity:.99;transform:translate(-50%,-50%) rotate(-90deg)">Inspection Count, Finding Count</div>
<div class="a " style="left:2324.8px;top:1359.2px;width:11.6px;height:11.6px;background:#1f77b4"></div>
<div class="a t" style="top:1346px;font-size:14.62px;line-height:40px;color:#8a8a8a;left:2340px;transform:scaleX(0.8889);transform-origin:0 50%;">– Inspection Count</div>
<div class="a " style="left:2457.2px;top:1359.2px;width:11.6px;height:11.6px;background:#ff7f0e"></div>
<div class="a t" style="top:1346px;font-size:14.62px;line-height:40px;color:#8a8a8a;left:2474px;transform:scaleX(0.8889);transform-origin:0 50%;">– Finding Count</div>
<div class="a p" style="left:1895px;top:1409px;width:1102px;height:498px;"></div>
<div class="a t" style="top:1410px;font-size:19.48px;line-height:40px;color:#262626;left:1910px;transform:scaleX(0.8889);transform-origin:0 50%;-webkit-text-stroke:0.36px currentColor;">Status of Audits On Site</div>
<div class="a " style="left:1902px;top:1450px;width:1086px;height:53px;background:#f6f8fb"></div>
<div class="a " style="left:1902px;top:1503px;width:1048px;height:54px;background:#fdfdfd"></div>
<div class="a " style="left:1902px;top:1557px;width:1048px;height:78px;background:#f0f1f1"></div>
<div class="a " style="left:1902px;top:1635px;width:1048px;height:52px;background:#fdfdfd"></div>
<div class="a " style="left:1902px;top:1687px;width:1048px;height:52px;background:#f0f1f1"></div>
<div class="a " style="left:1902px;top:1739px;width:1048px;height:79px;background:#fdfdfd"></div>
<div class="a " style="left:1902px;top:1818px;width:1048px;height:50px;background:#f0f1f1"></div>
<div class="a " style="left:2184px;top:1450px;width:2px;height:418px;background:#e9ebee"></div>
<div class="a " style="left:2406px;top:1450px;width:2px;height:418px;background:#e9ebee"></div>
<div class="a " style="left:2574px;top:1450px;width:2px;height:418px;background:#e9ebee"></div>
<div class="a " style="left:2949px;top:1450px;width:2px;height:418px;background:#e9ebee"></div>
<div class="a " style="left:1902px;top:1450px;width:1086px;height:2px;background:#e9ebee"></div>
<div class="a " style="left:1902px;top:1502px;width:1086px;height:2px;background:#e9ebee"></div>
<div class="a " style="left:1901px;top:1450px;width:2px;height:448px;background:#e9ebee"></div>
<div class="a " style="left:2987px;top:1450px;width:2px;height:448px;background:#e9ebee"></div>
<div class="a " style="left:2184px;top:1504px;width:220.4px;height:52.8px;background:#a50d1b"></div>
<div class="a t" style="top:1458px;font-size:19.8px;line-height:40px;color:#444;left:1916px;transform:scaleX(0.8889);transform-origin:0 50%;">Audit Description</div>
<div class="a t" style="top:1458px;font-size:19.8px;line-height:40px;color:#444;left:2197.2px;transform:scaleX(0.8889);transform-origin:0 50%;">Lead Auditor</div>
<div class="a t" style="top:1458px;font-size:19.8px;line-height:40px;color:#444;left:2420px;transform:scaleX(0.8889);transform-origin:0 50%;">Location</div>
<div class="a t" style="top:1458px;font-size:19.8px;line-height:40px;color:#444;left:2588px;transform:scaleX(0.8889);transform-origin:0 50%;">Audit Status Description</div>
<div class="a t" style="top:1511.2px;font-size:19.8px;line-height:40px;color:#222;left:2420px;transform:scaleX(0.8889);transform-origin:0 50%;">Toronto</div>
<div class="a t" style="top:1511.2px;font-size:19.8px;line-height:40px;color:#222;left:2588px;transform:scaleX(0.8889);transform-origin:0 50%;">Open</div>
<div class="a t" style="top:1576px;font-size:19.8px;line-height:40px;color:#222;left:1916px;transform:scaleX(0.8889);transform-origin:0 50%;">Construction Site Audit - Site A</div>
<div class="a t" style="top:1563.6px;font-size:19.8px;line-height:40px;color:#222;left:2197.2px;transform:scaleX(0.8889);transform-origin:0 50%;">Peterson, Barbara</div>
<div class="a t" style="top:1589.2px;font-size:19.8px;line-height:40px;color:#222;left:2197.2px;transform:scaleX(0.8889);transform-origin:0 50%;">(bpeterson)</div>
<div class="a t" style="top:1576px;font-size:19.8px;line-height:40px;color:#222;left:2420px;transform:scaleX(0.8889);transform-origin:0 50%;">New Mexico</div>
<div class="a t" style="top:1576px;font-size:19.8px;line-height:40px;color:#222;left:2588px;transform:scaleX(0.8889);transform-origin:0 50%;">Scheduled</div>
<div class="a t" style="top:1641.2px;font-size:19.8px;line-height:40px;color:#222;left:1916px;transform:scaleX(0.8889);transform-origin:0 50%;">Construction Site Audit - Site A</div>
<div class="a t" style="top:1641.2px;font-size:19.8px;line-height:40px;color:#222;left:2197.2px;transform:scaleX(0.8889);transform-origin:0 50%;">Easton, John&nbsp; (JEaston)</div>
<div class="a t" style="top:1641.2px;font-size:19.8px;line-height:40px;color:#222;left:2420px;transform:scaleX(0.8889);transform-origin:0 50%;">New Mexico</div>
<div class="a t" style="top:1641.2px;font-size:19.8px;line-height:40px;color:#222;left:2588px;transform:scaleX(0.8889);transform-origin:0 50%;">Closed</div>
<div class="a t" style="top:1693.2px;font-size:19.8px;line-height:40px;color:#222;left:1916px;transform:scaleX(0.8889);transform-origin:0 50%;">Fire and Life Safety Audit</div>
<div class="a t" style="top:1693.2px;font-size:19.8px;line-height:40px;color:#222;left:2197.2px;transform:scaleX(0.8889);transform-origin:0 50%;">Weber, Ernst (EWeber)</div>
<div class="a t" style="top:1693.2px;font-size:19.8px;line-height:40px;color:#222;left:2420px;transform:scaleX(0.8889);transform-origin:0 50%;">Eastern Region</div>
<div class="a t" style="top:1693.2px;font-size:19.8px;line-height:40px;color:#222;left:2588px;transform:scaleX(0.8889);transform-origin:0 50%;">Complete</div>
<div class="a t" style="top:1758.8px;font-size:19.8px;line-height:40px;color:#222;left:1916px;transform:scaleX(0.8889);transform-origin:0 50%;">Internal Safety Audit</div>
<div class="a t" style="top:1746px;font-size:19.8px;line-height:40px;color:#222;left:2197.2px;transform:scaleX(0.8889);transform-origin:0 50%;">HOFFMANN, HANS</div>
<div class="a t" style="top:1772px;font-size:19.8px;line-height:40px;color:#222;left:2197.2px;transform:scaleX(0.8889);transform-origin:0 50%;">(Cority_German User 1)</div>
<div class="a t" style="top:1758.8px;font-size:19.8px;line-height:40px;color:#222;left:2420px;transform:scaleX(0.8889);transform-origin:0 50%;">Frankfurt</div>
<div class="a t" style="top:1758.8px;font-size:19.8px;line-height:40px;color:#222;left:2588px;transform:scaleX(0.8889);transform-origin:0 50%;">In Progress</div>
<div class="a t" style="top:1837.2px;font-size:19.8px;line-height:40px;color:#222;left:1916px;transform:scaleX(0.8889);transform-origin:0 50%;">ISO Annual Review</div>
<div class="a t" style="top:1824.8px;font-size:19.8px;line-height:40px;color:#222;left:2197.2px;transform:scaleX(0.8889);transform-origin:0 50%;">Penner, Austen</div>
<div class="a t" style="top:1837.2px;font-size:19.8px;line-height:40px;color:#222;left:2420px;transform:scaleX(0.8889);transform-origin:0 50%;">Cambridge</div>
<div class="a t" style="top:1837.2px;font-size:19.8px;line-height:40px;color:#222;left:2588px;transform:scaleX(0.8889);transform-origin:0 50%;">Closed</div>
<div class="a" style="left:2197.2px;top:1858.4px;width:200px;height:9.6px;overflow:hidden"><div class="t" style="font-size:17.6px;line-height:24px;color:#222;margin-top:-1.6px">(AustenP_UK)</div></div>
<div class="a " style="left:2950px;top:1503px;width:38px;height:365px;background:#f1f1f1"></div>
<div class="a " style="left:2956px;top:1542px;width:27px;height:122px;background:#c1c1c1"></div>
<svg style="left:2962.4px;top:1520.4px" width="13.6" height="8.8" viewBox="0 0 3.4 2.2"><path d="M0 2.2L1.7 0L3.4 2.2Z" fill="#505050"/></svg>
<svg style="left:2962.4px;top:1840px" width="13.6" height="8.8" viewBox="0 0 3.4 2.2"><path d="M0 0L1.7 2.2L3.4 0Z" fill="#222"/></svg>
<div class="a " style="left:1902px;top:1868px;width:1086px;height:30px;background:#f1f1f1"></div>
<div class="a " style="left:1940px;top:1870.8px;width:963px;height:24.4px;background:#c1c1c1"></div>
<svg style="left:1917.2px;top:1876.4px" width="8.8" height="13.6" viewBox="0 0 2.2 3.4"><path d="M2.2 0L0 1.7L2.2 3.4Z" fill="#505050"/></svg>
<svg style="left:2928.8px;top:1876.4px" width="8.8" height="13.6" viewBox="0 0 2.2 3.4"><path d="M0 0L2.2 1.7L0 3.4Z" fill="#222"/></svg>
<div class="a " style="left:2950px;top:1868px;width:38px;height:30px;background:#dcdcdc"></div>
</div></body></html>
